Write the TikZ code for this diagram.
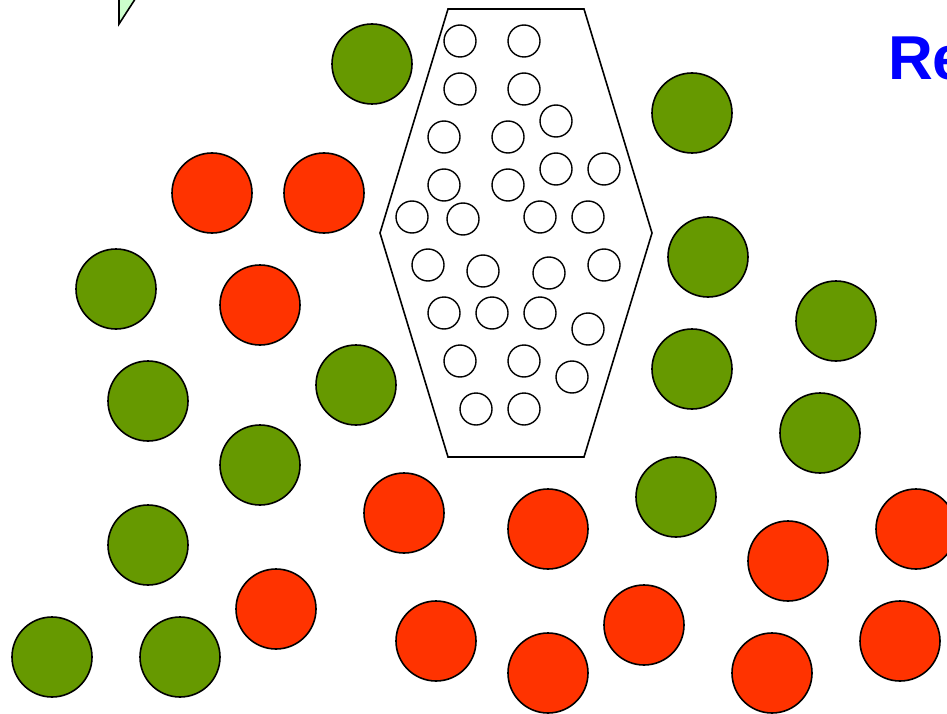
\documentclass[tikz,border=0pt]{standalone}
\usepackage{fontspec}
\newfontfamily\handfont{Liberation Sans}
\definecolor{ggreen}{HTML}{669900}
\definecolor{rred}{HTML}{FF3300}
\definecolor{lgreen}{HTML}{CCFFCC}
\begin{document}
\begin{tikzpicture}[x=1pt,y=-1pt,
  big/.style={draw=black,line width=1.6pt},
  greenball/.style={big,fill=ggreen},
  redball/.style={big,fill=rred},
  small/.style={draw=black,line width=1.4pt,fill=white}]
\useasboundingbox (0,0) rectangle (947,714);
\clip (0,0) rectangle (947,714);
% triangle top-left
\draw[line width=1.6pt,fill=lgreen,line join=miter] (119,-10) -- (119,24) -- (141,-10);
% hexagon
\draw[line width=1.6pt,fill=white] (448,9) -- (584,9) -- (652,233) -- (584,457) -- (448,457) -- (380,233) -- cycle;
% small circles
\foreach \p in {(460,41),(524,41),(460,89),(524,89),
  (444,137),(508,137),(556,121),
  (444,185),(508,185),(556,169),(604,169),
  (412,217),(463,219),(540,217),(588,217),
  (428,265),(483,271),(549,273),(604,265),
  (444,313),(492,313),(540,313),(588,329),
  (460,361),(524,361),(572,377),
  (476,409),(524,409)}
  \draw[small] \p circle (16);
% green balls
\foreach \p in {(372,64),(692,113),(116,289),(708,257),(836,321),(148,401),(356,385),(692,369),(820,433),(260,465),(676,497),(148,545),(52,657),(180,657)}
  \draw[greenball] \p circle (40);
% red balls
\foreach \p in {(212,193),(324,193),(260,305),(404,513),(548,529),(788,561),(916,529),(276,609),(436,641),(644,625),(548,673),(772,673),(900,641)}
  \draw[redball] \p circle (40);
% text (cut at the right edge, as in the reference)
\node[anchor=base west,inner sep=0pt,text=blue,font=\handfont\bfseries\fontsize{62}{62}\selectfont] (title) at (888,80) {Re};
\end{tikzpicture}
\end{document}
